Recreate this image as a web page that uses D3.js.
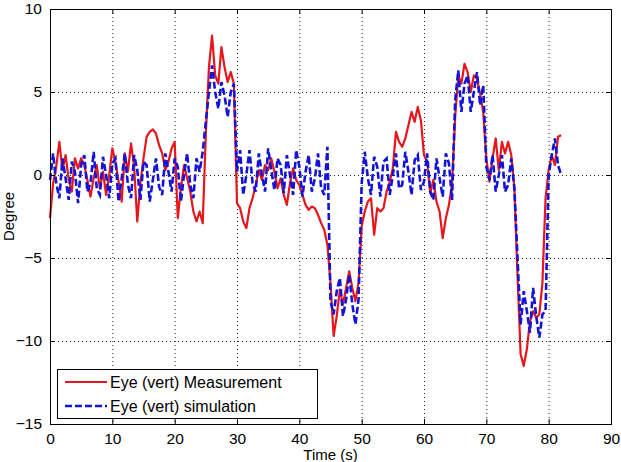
<!DOCTYPE html>
<html>
<head>
<meta charset="utf-8">
<script src="https://cdn.jsdelivr.net/npm/d3@7"></script>
<style>
  body { margin: 0; background: #fff; }
  svg { font-family: "Liberation Sans", Arial, sans-serif; }
</style>
</head>
<body>
<div id="chart"></div>
<script>
// sample interval (s) of both recordings
const dt = 0.5;

// Eye (vert) measurement, degrees, one value per 0.5 s from t = 0
const measurement = [
  -2.6, -0.5, 0.5, 2.0, 0.3, 1.2, -0.3, -1.0, 1.0, 0.4,
  1.0, 0.6, -0.3, -1.3, -0.2, 0.6, -0.8, 0.2, -1.2, 0.0,
  1.6, 0.8, -0.4, -1.6, 1.3, 0.2, 1.9, 0.5, -2.8, -0.5,
  1.0, 2.3, 2.6, 2.75, 2.5, 1.8, 1.3, 0.3, 0.8, 1.6,
  2.0, -2.6, -0.8, 0.6, -0.2, -1.0, -2.2, -2.8, -2.2, -2.9,
  2.5, 6.5, 8.4, 6.0, 5.5, 7.7, 6.5, 5.6, 6.2, 5.5,
  -1.7, -2.0, -2.8, -3.2, -2.0, -1.4, -0.6, 0.3, -0.3, 0.6,
  0.3, 1.0, 0.2, -0.8, -0.2, -1.2, -1.8, -0.5, 0.4, -0.3,
  -0.6, -1.2, -1.8, -2.1, -1.9, -2.0, -2.4, -2.9, -3.3, -4.2,
  -6.5, -9.7, -8.5, -6.9, -7.8, -6.8, -5.8, -6.8, -7.6, -6.5,
  -3.1, -2.2, -1.6, -1.4, -3.6, -2.0, -2.2, -2.0, -1.0, -0.4,
  0.4, 2.6, 2.0, 1.7, 2.2, 3.0, 3.8, 3.2, 4.1, 3.3,
  1.2, 0.8, -1.1, -0.3, -1.6, -2.2, -3.8, -2.6, -1.8, -0.5,
  3.5, 6.0, 5.5, 6.7, 6.2, 5.0, 6.0, 5.8, 4.9, 3.8,
  1.0, -0.4, 1.0, 2.2, 0.3, 2.0, 1.3, 2.0, 1.2, -0.8,
  -6.0, -10.8, -11.5, -10.5, -8.8, -8.2, -8.6, -8.4, -6.5, -1.4,
  0.3, 1.2, 0.6, 2.3, 2.4
];

// Eye (vert) simulation, degrees
const simulation = [
  -0.3, 1.3, -0.5, -1.4, 1.0, -0.2, -1.5, 0.8, 0.2, -1.7,
  0.6, 1.2, -1.0, -0.5, 1.4, -0.8, -1.2, 1.1, 0.0, -1.4,
  0.7, 1.0, -1.6, -0.2, 1.3, -0.6, -1.4, 1.2, 0.3, -1.5,
  0.8, 0.6, -1.6, -0.3, 1.0, -0.7, -1.2, 1.3, 0.2, -1.0,
  1.0, 0.5, -1.6, 0.0, 1.3, -0.6, -1.4, 1.0, 0.2, 1.4,
  3.2, 5.0, 6.6, 5.0, 4.0, 5.6, 4.8, 3.5, 5.0, 5.5,
  0.2, 1.5, -1.2, 0.0, 1.5, -0.5, -1.0, 1.3, 0.0, -1.0,
  1.6, 0.3, -0.9, 1.0, 0.6, -1.1, 1.2, 0.0, -1.2, 1.5,
  0.5, -1.3, 0.2, 1.2, -1.0, -0.2, 1.3, -0.8, -1.2, 1.7,
  -7.6, -8.4, -7.0, -6.2, -8.5, -7.5, -6.0, -7.8, -9.0, -7.5,
  -0.5, 1.4, -0.2, -1.2, 1.1, 0.5, -1.3, 0.8, 1.0, -1.2,
  0.0, 1.3, -0.8, -0.6, 1.4, 0.2, -1.2, 0.9, 1.2, -0.9,
  -0.4, 1.3, -1.0, -1.5, 1.0, -0.2, -1.3, 1.3, 0.7, -1.5,
  4.5, 6.3, 3.8, 5.5, 6.0, 3.8, 5.0, 6.2, 4.2, 5.4,
  0.5, -0.3, 1.2, -1.0, 0.0, 1.2, -1.0, -0.6, 1.0, -0.8,
  -5.0, -9.0, -7.0, -8.2, -9.5, -6.8, -8.5, -9.8, -8.4, -8.2,
  0.0, 1.2, 2.2, 0.6, 0.0
];

const xTicks = [0, 10, 20, 30, 40, 50, 60, 70, 80, 90];
const yTicks = [-15, -10, -5, 0, 5, 10];
const legendLabels = ["Eye (vert) Measurement", "Eye (vert) simulation"];

const W = 621, H = 462;
const margin = {top: 9, right: 10, bottom: 38, left: 50};
const width = W - margin.left - margin.right;
const height = H - margin.top - margin.bottom;

const svg = d3.select("#chart").append("svg")
    .attr("width", W)
    .attr("height", H);

const g = svg.append("g")
    .attr("transform", `translate(${margin.left},${margin.top})`);

const x = d3.scaleLinear().domain([0, 90]).range([0, width]);
const y = d3.scaleLinear().domain([-15, 10]).range([height, 0]);

// dotted grid
g.append("g").selectAll("line")
    .data(xTicks.slice(1, -1))
    .enter().append("line")
    .attr("x1", d => x(d) + 0.5).attr("x2", d => x(d) + 0.5)
    .attr("y1", 0).attr("y2", height)
    .attr("stroke", "#222").attr("stroke-dasharray", "1,3");

g.append("g").selectAll("line")
    .data(yTicks.slice(1, -1))
    .enter().append("line")
    .attr("y1", d => y(d) + 0.5).attr("y2", d => y(d) + 0.5)
    .attr("x1", 0).attr("x2", width)
    .attr("stroke", "#222").attr("stroke-dasharray", "1,3");

// data lines
const line = d3.line()
    .x((d, i) => x(i * dt))
    .y(d => y(d));

g.append("path")
    .datum(measurement)
    .attr("fill", "none")
    .attr("stroke", "#e5161c")
    .attr("stroke-width", 2.2)
    .attr("stroke-linejoin", "round")
    .attr("d", line);

g.append("path")
    .datum(simulation)
    .attr("fill", "none")
    .attr("stroke", "#1414d6")
    .attr("stroke-width", 2.6)
    .attr("stroke-dasharray", "7,3")
    .attr("d", line);

// axes, MATLAB style with inward ticks on all sides
const xAxis = g.append("g")
    .attr("transform", `translate(0,${height})`)
    .call(d3.axisBottom(x).tickValues(xTicks).tickSize(-5).tickPadding(9));
const xTop = g.append("g")
    .call(d3.axisTop(x).tickValues(xTicks).tickSize(-5).tickFormat(""));
const yAxis = g.append("g")
    .call(d3.axisLeft(y).tickValues(yTicks).tickSize(-5).tickPadding(8));
const yRight = g.append("g")
    .attr("transform", `translate(${width},0)`)
    .call(d3.axisRight(y).tickValues(yTicks).tickSize(-5).tickFormat(""));

[xAxis, xTop, yAxis, yRight].forEach(a => {
    a.select(".domain").attr("stroke", "#000");
    a.selectAll(".tick line").attr("stroke", "#000");
    a.selectAll("text").attr("font-size", 15.5).attr("fill", "#000")
        .attr("font-family", "Liberation Sans, Arial, sans-serif");
});

// axis titles
svg.append("text")
    .attr("x", margin.left + width / 2)
    .attr("y", 460)
    .attr("text-anchor", "middle")
    .attr("font-size", 15)
    .text("Time (s)");

svg.append("text")
    .attr("transform", `translate(14,${margin.top + height / 2}) rotate(-90)`)
    .attr("text-anchor", "middle")
    .attr("font-size", 15)
    .text("Degree");

// legend
const legend = svg.append("g").attr("transform", "translate(57,369)");
legend.append("rect")
    .attr("x", 0.5).attr("y", 0.5)
    .attr("width", 260).attr("height", 49)
    .attr("fill", "#fff").attr("stroke", "#000");

const legendStyles = [
    {stroke: "#e5161c", width: 2.2, dash: null},
    {stroke: "#1414d6", width: 2.6, dash: "7,3"}
];

legendLabels.forEach((label, i) => {
    const row = legend.append("g").attr("transform", `translate(0,${13 + i * 24})`);
    row.append("line")
        .attr("x1", 8).attr("x2", 50)
        .attr("stroke", legendStyles[i].stroke)
        .attr("stroke-width", legendStyles[i].width)
        .attr("stroke-dasharray", legendStyles[i].dash);
    row.append("text")
        .attr("x", 53).attr("y", 6)
        .attr("font-size", 16)
        .text(label);
});
</script>
</body>
</html>
